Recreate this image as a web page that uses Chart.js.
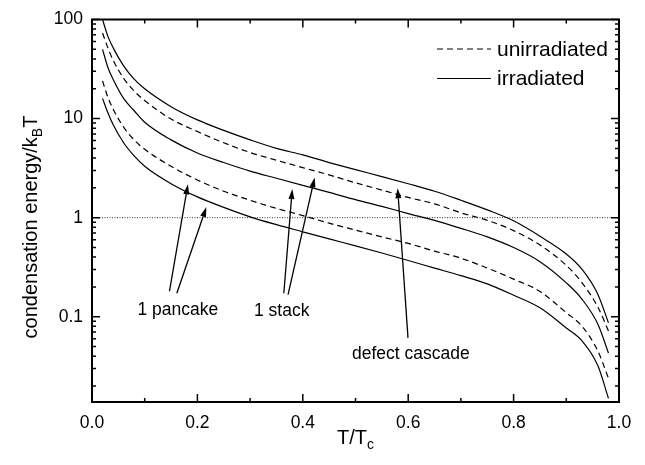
<!DOCTYPE html>
<html><head><meta charset="utf-8">
<script src="https://cdn.jsdelivr.net/npm/chart.js@4.4.1/dist/chart.umd.min.js"></script>
<style>html,body{margin:0;padding:0;background:#fff;}canvas{display:block;}</style>
</head><body>
<canvas id="c" width="645" height="465" style="width:645px;height:465px"></canvas>
<script>
// ---- data ----
const tOverTc = [0.02, 0.03, 0.04, 0.06, 0.08, 0.10, 0.15, 0.20, 0.25, 0.30, 0.35, 0.40, 0.45, 0.50, 0.55, 0.60, 0.65, 0.70, 0.75, 0.80, 0.85, 0.90, 0.93, 0.96, 0.98];
const defectCascadeIrradiated = [100, 68, 52, 34, 25, 20, 13.2, 9.7, 7.6, 6.1, 5.0, 4.3, 3.6, 3.05, 2.6, 2.2, 1.85, 1.5, 1.2, 0.93, 0.65, 0.43, 0.30, 0.168, 0.087];
const stackUnirradiated = [73, 52, 39, 25.5, 19, 15.2, 9.9, 7.4, 5.7, 4.55, 3.8, 3.2, 2.7, 2.25, 1.9, 1.6, 1.38, 1.12, 0.94, 0.74, 0.53, 0.33, 0.22, 0.125, 0.072];
const stackIrradiated = [50, 33, 25, 16, 12, 9.2, 6.1, 4.5, 3.6, 2.95, 2.5, 2.12, 1.8, 1.52, 1.3, 1.1, 0.94, 0.78, 0.64, 0.5, 0.36, 0.22, 0.15, 0.084, 0.043];
const pancakeUnirradiated = [24, 16.5, 12.5, 8.2, 6.1, 4.9, 3.3, 2.4, 1.85, 1.5, 1.24, 1.05, 0.88, 0.75, 0.64, 0.55, 0.46, 0.39, 0.31, 0.24, 0.18, 0.11, 0.08, 0.045, 0.024];
const pancakeIrradiated = [16, 11.5, 8.7, 5.7, 4.2, 3.3, 2.2, 1.62, 1.27, 1.02, 0.85, 0.72, 0.61, 0.52, 0.44, 0.37, 0.31, 0.26, 0.215, 0.165, 0.123, 0.077, 0.057, 0.032, 0.015];
const xTickValues = [0, 0.2, 0.4, 0.6, 0.8, 1.0];
const xTickLabels = ['0.0', '0.2', '0.4', '0.6', '0.8', '1.0'];
const yDecades = [0.01, 0.1, 1, 10, 100];
const yTickLabels = {0.1: '0.1', 1: '1', 10: '10', 100: '100'};
const xRange = [0, 1];
const yRange = [0.0138, 100];
const referenceLevel = 1;
const legendEntries = [{text: 'unirradiated', dashed: true}, {text: 'irradiated', dashed: false}];
// annotation arrows (data coordinates: [T/Tc, energy])
const annotationArrows = [
  {from: [0.147, 0.181], to: [0.182, 2.17]},
  {from: [0.161, 0.173], to: [0.217, 1.28]},
  {from: [0.364, 0.173], to: [0.380, 1.95]},
  {from: [0.372, 0.1675], to: [0.4226, 2.55]},
  {from: [0.5996, 0.0612], to: [0.580, 1.98]}
];
const annotationTexts = [
  {text: '1 pancake', at: [0.163, 0.117]},
  {text: '1 stack', at: [0.360, 0.114]},
  {text: 'defect cascade', at: [0.605, 0.0424]}
];

const FONT = '"Liberation Sans", Arial, Helvetica, sans-serif';
const toPts = arr => arr.map((v, i) => ({x: tOverTc[i], y: v}));
const solid = (label, arr) => ({label, data: toPts(arr), borderColor: '#000', borderWidth: 1.2, pointRadius: 0, fill: false, cubicInterpolationMode: 'monotone'});
const dashed = (label, arr) => Object.assign(solid(label, arr), {borderDash: [6, 4]});

const yTickList = [];
yDecades.forEach(d => { for (let m = 1; m <= 9; m++) { const v = +(d * m).toPrecision(3); if (v >= yRange[0] && v <= yRange[1]) yTickList.push(v); } });

const decorPlugin = {
  id: 'decor',
  beforeDatasetsDraw(chart) {
    const {ctx, chartArea: a, scales: {y}} = chart;
    const py = y.getPixelForValue(referenceLevel);
    ctx.save();
    ctx.strokeStyle = '#333'; ctx.lineWidth = 1; ctx.setLineDash([1, 1.5]);
    ctx.beginPath(); ctx.moveTo(a.left, py); ctx.lineTo(a.right, py); ctx.stroke();
    ctx.restore();
  },
  afterDraw(chart) {
    const {ctx, chartArea: a, scales: {x, y}} = chart;
    ctx.save();
    // frame
    ctx.strokeStyle = '#000'; ctx.lineWidth = 2; ctx.setLineDash([]);
    ctx.strokeRect(a.left, a.top, a.right - a.left, a.bottom - a.top);
    // ticks
    ctx.lineWidth = 1.5;
    ctx.beginPath();
    for (let i = 0; i <= 10; i++) {
      const px = x.getPixelForValue(i / 10);
      const len = i % 2 === 0 ? 8 : 4;
      ctx.moveTo(px, a.bottom); ctx.lineTo(px, a.bottom - len);
      ctx.moveTo(px, a.top); ctx.lineTo(px, a.top + len);
    }
    yTickList.forEach(v => {
      const py = y.getPixelForValue(v);
      const major = yDecades.some(d => Math.abs(d - v) < 1e-9);
      const len = major ? 8 : 4;
      ctx.moveTo(a.left, py); ctx.lineTo(a.left + len, py);
      ctx.moveTo(a.right, py); ctx.lineTo(a.right - len, py);
    });
    ctx.stroke();
    // arrows
    ctx.lineWidth = 1.3; ctx.fillStyle = '#000';
    annotationArrows.forEach(ar => {
      const x0 = x.getPixelForValue(ar.from[0]), y0 = y.getPixelForValue(ar.from[1]);
      const x1 = x.getPixelForValue(ar.to[0]), y1 = y.getPixelForValue(ar.to[1]);
      const ang = Math.atan2(y1 - y0, x1 - x0);
      const L = 10, W = 3;
      const bx = x1 - L * Math.cos(ang), by = y1 - L * Math.sin(ang);
      ctx.beginPath(); ctx.moveTo(x0, y0); ctx.lineTo(bx, by); ctx.stroke();
      ctx.beginPath();
      ctx.moveTo(x1, y1);
      ctx.lineTo(bx + W * Math.sin(ang), by - W * Math.cos(ang));
      ctx.lineTo(bx - W * Math.sin(ang), by + W * Math.cos(ang));
      ctx.closePath(); ctx.fill();
    });
    // annotation texts
    ctx.font = '17.5px ' + FONT; ctx.textAlign = 'center'; ctx.textBaseline = 'middle';
    annotationTexts.forEach(t => ctx.fillText(t.text, x.getPixelForValue(t.at[0]), y.getPixelForValue(t.at[1])));
    // legend
    ctx.font = '21px ' + FONT; ctx.textAlign = 'left'; ctx.textBaseline = 'middle';
    legendEntries.forEach((e, i) => {
      const ly = 49 + i * 29.5;
      ctx.lineWidth = 1.2; ctx.setLineDash(e.dashed ? [6, 4] : []);
      ctx.beginPath(); ctx.moveTo(437, ly); ctx.lineTo(491, ly); ctx.stroke();
      ctx.setLineDash([]);
      ctx.fillText(e.text, 497, ly + 1);
    });
    // y axis title with subscript
    ctx.save();
    ctx.translate(37, 227); ctx.rotate(-Math.PI / 2);
    ctx.textBaseline = 'alphabetic'; ctx.textAlign = 'left';
    const mainF = '20px ' + FONT, subF = '14px ' + FONT;
    const p1 = 'condensation energy/k', p2 = 'B', p3 = 'T';
    ctx.font = mainF; const w1 = ctx.measureText(p1).width, w3 = ctx.measureText(p3).width;
    ctx.font = subF; const w2 = ctx.measureText(p2).width;
    let sx = -(w1 + w2 + w3) / 2;
    ctx.font = mainF; ctx.fillText(p1, sx, 0); sx += w1;
    ctx.font = subF; ctx.fillText(p2, sx, 5); sx += w2;
    ctx.font = mainF; ctx.fillText(p3, sx, 0);
    ctx.restore();
    // x axis title with subscript
    ctx.textBaseline = 'alphabetic'; ctx.textAlign = 'left';
    ctx.font = mainF; const q1 = 'T/T'; const wq1 = ctx.measureText(q1).width;
    ctx.font = subF; const wq2 = ctx.measureText('c').width;
    let qx = (a.left + a.right) / 2 - (wq1 + wq2) / 2;
    ctx.font = mainF; ctx.fillText(q1, qx, 444);
    ctx.font = subF; ctx.fillText('c', qx + wq1, 449);
    ctx.restore();
  }
};

new Chart(document.getElementById('c'), {
  type: 'line',
  data: {
    datasets: [
      solid('irradiated (defect cascade)', defectCascadeIrradiated),
      dashed('unirradiated (1 stack)', stackUnirradiated),
      solid('irradiated (1 stack)', stackIrradiated),
      dashed('unirradiated (1 pancake)', pancakeUnirradiated),
      solid('irradiated (1 pancake)', pancakeIrradiated)
    ]
  },
  options: {
    responsive: false, animation: false,
    layout: {padding: {top: 16, right: 26, left: 0, bottom: 0}},
    plugins: {legend: {display: false}, tooltip: {enabled: false}},
    scales: {
      x: {
        type: 'linear', min: xRange[0], max: xRange[1],
        grid: {display: false, drawTicks: false}, border: {display: false},
        afterBuildTicks: s => { s.ticks = xTickValues.map(v => ({value: v})); },
        ticks: {autoSkip: false, maxRotation: 0, color: '#000', padding: 11, font: {family: FONT, size: 17.5},
          callback: (v) => { const i = xTickValues.findIndex(t => Math.abs(t - v) < 1e-9); return i >= 0 ? xTickLabels[i] : ''; }},
        afterFit: s => { s.height = 63; }
      },
      y: {
        type: 'logarithmic', min: yRange[0], max: yRange[1],
        grid: {display: false, drawTicks: false}, border: {display: false},
        afterBuildTicks: s => { s.ticks = yTickList.map(v => ({value: v})); },
        ticks: {autoSkip: false, color: '#000', padding: 9, font: {family: FONT, size: 17.5},
          callback: (v) => yTickLabels[+(+v).toPrecision(3)] || ''},
        afterFit: s => { s.width = 92; }
      }
    }
  },
  plugins: [decorPlugin]
});
</script>
</body></html>
